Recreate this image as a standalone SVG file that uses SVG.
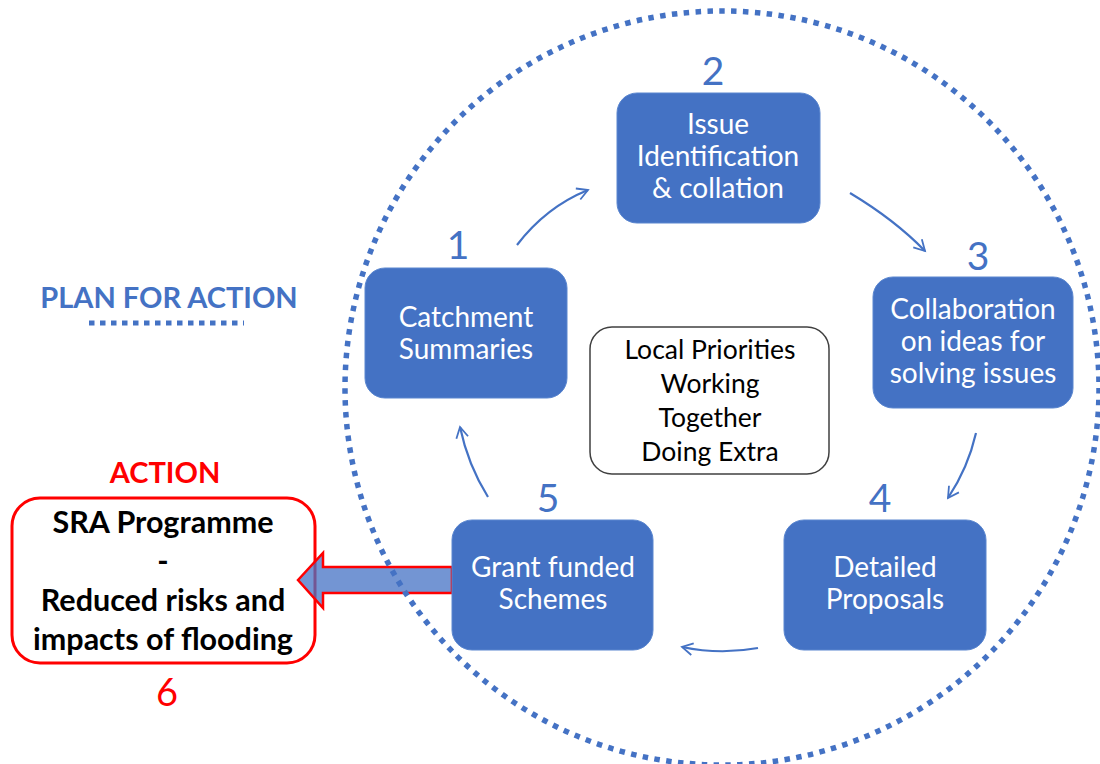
<svg xmlns="http://www.w3.org/2000/svg" width="1100" height="764" viewBox="0 0 1100 764">
<defs>
<style>
.box{fill:#4472C4;stroke:#5A86CF;stroke-width:1}
.bt{font-family:Lato,"Liberation Sans",sans-serif;font-size:28px;fill:#ffffff;text-anchor:middle}
.num{font-family:Lato,"Liberation Sans",sans-serif;font-size:39px;fill:#4472C4;text-anchor:middle}
.ct{font-family:Lato,"Liberation Sans",sans-serif;font-size:26.5px;fill:#000000;text-anchor:middle}
.rt{font-family:Lato,"Liberation Sans",sans-serif;font-size:30.5px;font-weight:bold;fill:#000000;text-anchor:middle}
.conn{fill:none;stroke:#4472C4;stroke-width:2.2;marker-end:url(#ah)}
</style>
<marker id="ah" viewBox="0 0 12 12" refX="10" refY="6" markerWidth="6.5" markerHeight="6.5" orient="auto" markerUnits="strokeWidth">
<path d="M1,1 L10,6 L1,11" fill="none" stroke="#4472C4" stroke-width="1.5"/>
</marker>
</defs>
<rect width="1100" height="764" fill="#ffffff"/>

<g id="title">
<text x="169" y="308" font-family="Lato,'Liberation Sans',sans-serif" font-size="29" font-weight="bold" fill="#4472C4" text-anchor="middle">PLAN FOR ACTION</text>
<line x1="89" y1="323" x2="244" y2="323" stroke="#4472C4" stroke-width="5" stroke-dasharray="5.5 5.5"/>
</g>

<g id="node6">
<text x="165" y="483" font-family="Lato,'Liberation Sans',sans-serif" font-size="29" font-weight="bold" fill="#FF0000" text-anchor="middle">ACTION</text>
<rect x="12" y="498" width="303" height="165" rx="28" fill="#ffffff" stroke="#FF0000" stroke-width="3"/>
<text class="rt" x="163" y="533">SRA Programme</text>
<text class="rt" x="163" y="572">-</text>
<text class="rt" x="163" y="611">Reduced risks and</text>
<text class="rt" x="163" y="650">impacts of flooding</text>
<text x="167" y="706" font-family="Lato,'Liberation Sans',sans-serif" font-size="38" fill="#FF0000" text-anchor="middle">6</text>
</g>

<g id="arrow6">
<path d="M298,580 L323,553 L323,567 L452,567 L452,593 L323,593 L323,608 Z" fill="#4472C4" fill-opacity="0.75" stroke="#FF0000" stroke-width="2.5"/>
</g>

<circle cx="722" cy="388" r="377" fill="none" stroke="#4472C4" stroke-width="5.5" stroke-dasharray="5.5 6.4"/>

<g id="node1">
<rect class="box" x="365" y="268" width="202" height="130" rx="20"/>
<text class="bt" x="466" y="327">Catchment</text>
<text class="bt" x="466" y="359">Summaries</text>
<text class="num" x="458" y="259">1</text>
</g>

<g id="node2">
<rect class="box" x="617" y="93" width="203" height="130" rx="20"/>
<text class="bt" x="718" y="134">Issue</text>
<text class="bt" x="718" y="166">Identification</text>
<text class="bt" x="718" y="198">&amp; collation</text>
<text class="num" x="713" y="85">2</text>
</g>

<g id="node3">
<rect class="box" x="873" y="277" width="200" height="131" rx="20"/>
<text class="bt" x="973" y="319">Collaboration</text>
<text class="bt" x="973" y="351">on ideas for</text>
<text class="bt" x="973" y="383">solving issues</text>
<text class="num" x="978" y="270">3</text>
</g>

<g id="node4">
<rect class="box" x="784" y="520" width="202" height="130" rx="20"/>
<text class="bt" x="885" y="577">Detailed</text>
<text class="bt" x="885" y="609">Proposals</text>
<text class="num" x="880" y="512">4</text>
</g>

<g id="node5">
<rect class="box" x="452" y="520" width="201" height="130" rx="20"/>
<text class="bt" x="553" y="577">Grant funded</text>
<text class="bt" x="553" y="609">Schemes</text>
<text class="num" x="548" y="512">5</text>
</g>

<g id="center">
<rect x="590" y="327" width="239" height="147" rx="22" fill="#ffffff" stroke="#404040" stroke-width="1.5"/>
<text class="ct" x="710" y="359">Local Priorities</text>
<text class="ct" x="710" y="393">Working</text>
<text class="ct" x="710" y="427">Together</text>
<text class="ct" x="710" y="461">Doing Extra</text>
</g>

<g id="connectors">
<path class="conn" d="M517,245 Q546,207 588,190"/>
<path class="conn" d="M850,193 Q895,220 925,251"/>
<path class="conn" d="M976,433 Q968,468 948,498"/>
<path class="conn" d="M758,648 Q720,655 682,647"/>
<path class="conn" d="M488,497 Q468,465 460,427"/>
</g>
</svg>
